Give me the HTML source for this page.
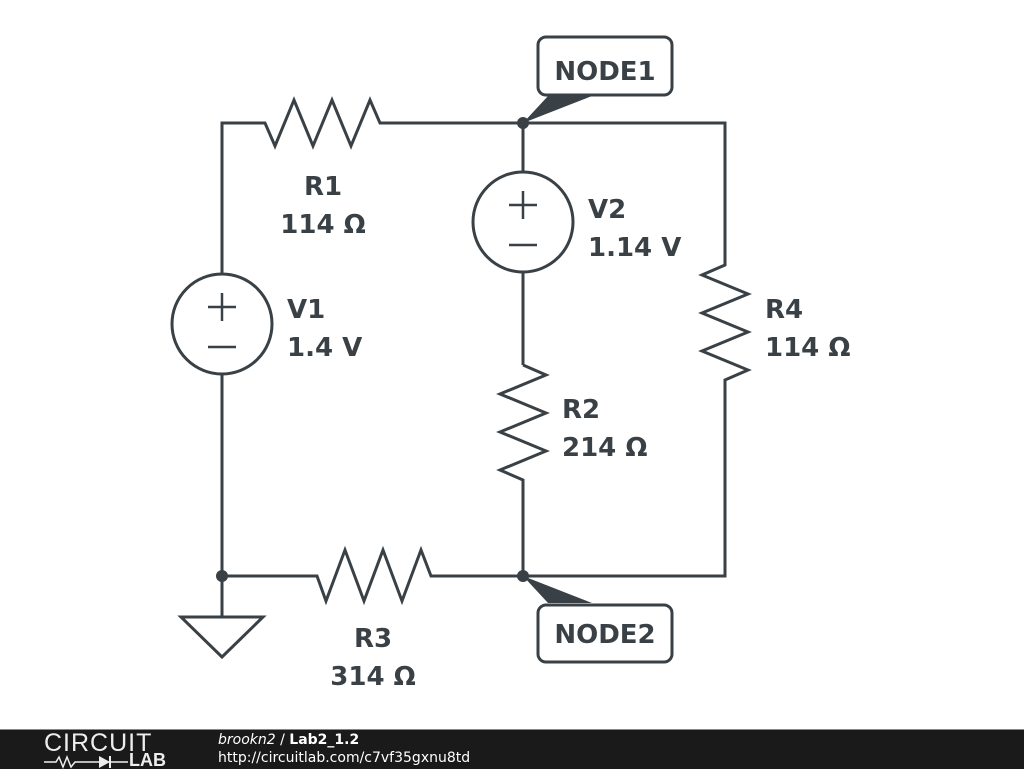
<!DOCTYPE html>
<html><head><style>
body{margin:0;width:1024px;height:768px;background:#fff;overflow:hidden;position:relative;font-family:"Liberation Sans",sans-serif}
#ft{position:absolute;left:0;top:729px;width:1024px;height:39px;background:#1a1a1a;border-top:1px solid #888}
</style></head><body>
<svg width="1024" height="768" style="position:absolute;left:0;top:0">
<g stroke="#394146" stroke-width="3" fill="none" stroke-linejoin="miter">
<polyline points="222,324 222,123 265,123 275,146 294,100 313,146 332,100 351,146 370,100 380,123 725,123 725,265 702,275 748,294 702,313 748,332 702,351 748,370 725,380 725,576 431,576 421,550 402,601 383,550 364,601 345,550 326,601 317,576 222,576 222,324"/>
<line x1="523" y1="123" x2="523" y2="365"/>
<polyline points="523,365 546,375 500,394 546,413 500,432 546,451 500,470 523,480 523,576"/>
<line x1="222" y1="576" x2="222" y2="617"/>
<polygon points="181,617 263,617 222,657"/>
<circle cx="222" cy="324" r="50" fill="#fff"/>
<circle cx="523" cy="222" r="50" fill="#fff"/>
<line x1="208" y1="307" x2="236" y2="307" stroke-width="2.5"/><line x1="222" y1="293" x2="222" y2="321" stroke-width="2.5"/>
<line x1="208" y1="347" x2="236" y2="347" stroke-width="2.5"/>
<line x1="509" y1="205" x2="537" y2="205" stroke-width="2.5"/><line x1="523" y1="191" x2="523" y2="219" stroke-width="2.5"/>
<line x1="509" y1="245" x2="537" y2="245" stroke-width="2.5"/>
<rect x="538" y="37" width="134" height="58" rx="8" fill="#fff"/>
<rect x="538" y="605" width="134" height="57" rx="8" fill="#fff"/>
</g>
<g fill="#394146">
<circle cx="523" cy="123" r="6"/><circle cx="523" cy="576" r="6"/><circle cx="222" cy="576" r="6"/>
<polygon points="523,123 548,96 592,96"/>
<polygon points="523,576 548,603 592,603"/>
</g>
<g fill="#394146" font-family="DejaVu Sans,sans-serif" font-weight="bold" font-size="26">
<text x="605" y="80" text-anchor="middle">NODE1</text>
<text x="605" y="643" text-anchor="middle">NODE2</text>
<text x="323" y="195" text-anchor="middle">R1</text><text x="323" y="233" text-anchor="middle">114 Ω</text>
<text x="287" y="318">V1</text><text x="287" y="356">1.4 V</text>
<text x="588" y="218">V2</text><text x="588" y="256">1.14 V</text>
<text x="765" y="318">R4</text><text x="765" y="356">114 Ω</text>
<text x="562" y="418">R2</text><text x="562" y="456">214 Ω</text>
<text x="373" y="647" text-anchor="middle">R3</text><text x="373" y="685" text-anchor="middle">314 Ω</text>
</g>
</svg>
<div id="ft">
<div style="position:absolute;left:44px;top:0;color:#eee;font-size:25px;letter-spacing:1px;line-height:26px;font-weight:300">CIRCUIT</div>
<svg style="position:absolute;left:44px;top:25px" width="130" height="14"><polyline points="0,7 12,7 15,2 19,12 23,2 27,12 31,7 45,7" stroke="#eee" stroke-width="1.5" fill="none"/><polygon points="55,1 55,13 66,7" fill="#eee"/><line x1="66" y1="1" x2="66" y2="13" stroke="#eee" stroke-width="2"/><line x1="45" y1="7" x2="84" y2="7" stroke="#eee" stroke-width="1.5"/></svg>
<div style="position:absolute;left:129px;top:22px;color:#eee;font-size:18px;font-weight:bold;line-height:17px">LAB</div>
<div style="position:absolute;left:218px;top:1px;color:#fff;font-size:14px;line-height:18px;font-family:'DejaVu Sans',sans-serif"><i>brookn2</i> / <b>Lab2_1.2</b></div>
<div style="position:absolute;left:218px;top:19px;color:#fff;font-size:14px;line-height:18px;font-family:'DejaVu Sans',sans-serif">http://circuitlab.com/c7vf35gxnu8td</div>
</div>
</body></html>
